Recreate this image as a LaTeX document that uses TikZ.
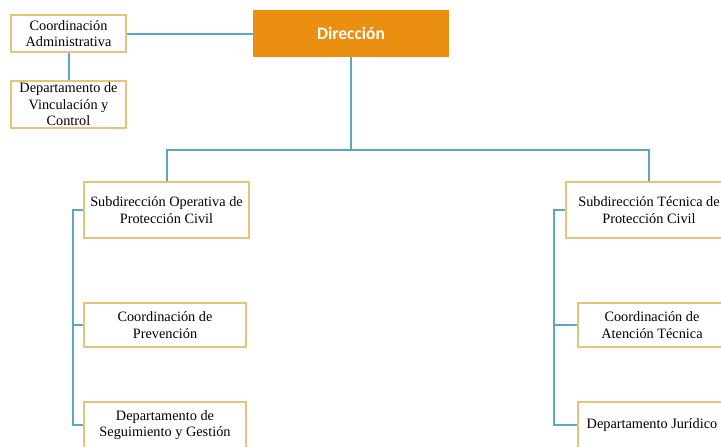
\documentclass[tikz,border=0pt]{standalone}
\usepackage{fontspec}
\setmainfont{Liberation Serif}
\newfontfamily\headfont{Carlito}
\usepackage{tikz}
\definecolor{dirorange}{HTML}{EB8F10}
\definecolor{boxgold}{HTML}{E8C27C}
\definecolor{linkblue}{HTML}{5BA6C9}
\tikzset{unit/.style = {draw=boxgold, line width=1.6pt, fill=white, align=center,
                        inner sep=0, font=\fontsize{14.3}{16.5}\selectfont}}
\tikzset{head/.style = {fill=dirorange, text=white, inner sep=0,
                        font=\headfont\bfseries\fontsize{17.5}{20}\selectfont}}
\tikzset{link/.style = {draw=linkblue, line width=2pt}}

\begin{document}
\begin{tikzpicture}[x=1pt, y=-1pt]
      \clip (0, 0) rectangle (721, 447);
      \fill [white] (0, 0) rectangle (721, 447);

      \node (dir) at (351, 33.5) [head, minimum width=196, minimum height=47] {Dirección};
      \node (cadm) at (68.5, 33.5) [unit, minimum width=115, minimum height=37] {Coordinación\\Administrativa};
      \node (dvc) at (68.5, 104.5) [unit, minimum width=115, minimum height=47] {Departamento de\\Vinculación y\\Control};

      \node (sop) at (166.5, 210) [unit, minimum width=165, minimum height=56] {Subdirección Operativa de\\Protección Civil};
      \node (cpre) at (165, 325) [unit, minimum width=162, minimum height=44] {Coordinación de\\Prevención};
      \node (dsg) at (165, 425) [unit, minimum width=162, minimum height=46] {Departamento de\\Seguimiento y Gestión};

      \node (stec) at (649, 210) [unit, minimum width=166, minimum height=56] {Subdirección Técnica de\\Protección Civil};
      \node (cat) at (652, 325) [unit, minimum width=148, minimum height=44] {Coordinación de\\Atención Técnica};
      \node (djur) at (652, 425) [unit, minimum width=148, minimum height=46] {Departamento Jurídico};

      \coordinate (split) at (351, 150);
      \coordinate (lbus) at (72.5, 210);
      \coordinate (rbus) at (553.5, 210);

      \draw [link] (cadm) -- (dir);
      \draw [link] (cadm) -- (dvc);
      \draw [link] (dir) -- (split);
      \draw [link] (sop.north) |- (split) -| (stec.north);
      \draw [link] (sop.west) -- (lbus) |- (dsg.west);
      \draw [link] (lbus) |- (cpre.west);
      \draw [link] (stec.west) -- (rbus) |- (djur.west);
      \draw [link] (rbus) |- (cat.west);
    \end{tikzpicture}
\end{document}
